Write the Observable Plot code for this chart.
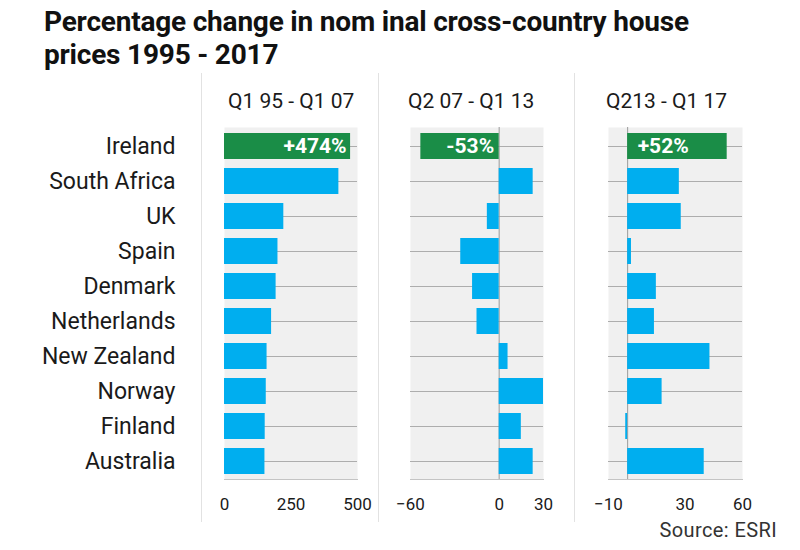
<!DOCTYPE html>
<html>
<head>
<meta charset="utf-8">
<script src="https://cdn.jsdelivr.net/npm/d3@7"></script>
<script src="https://cdn.jsdelivr.net/npm/@observablehq/plot@0.6"></script>
<style>
  html, body { margin: 0; padding: 0; background: #fff; }
  #chart { position: relative; width: 800px; height: 550px; font-family: Roboto, "Noto Sans", sans-serif; color: #1a1a1a; overflow: hidden; }
  .title { position: absolute; left: 44px; top: 5px; font-weight: 700; font-size: 28px; line-height: 33px; letter-spacing: -0.2px; color: #111; white-space: nowrap; }
  .head { position: absolute; top: 89px; font-size: 21px; line-height: 24px; color: #1a1a1a; white-space: nowrap; }
  .sep { position: absolute; top: 73px; height: 449px; width: 1px; background: #e2e2e2; }
  .panel { position: absolute; top: 120px; }
  .source { position: absolute; right: 23px; top: 518px; font-size: 20px; line-height: 24px; letter-spacing: 0.4px; color: #333; }
</style>
</head>
<body>
<div id="chart">
  <div class="title">Percentage change in nom inal cross-country house<br>prices 1995 - 2017</div>
</div>
<script>
const countries = ["Ireland", "South Africa", "UK", "Spain", "Denmark", "Netherlands", "New Zealand", "Norway", "Finland", "Australia"];
const change1995to2007 = [474, 430, 223, 201, 194, 177, 160, 157, 153, 152];
const change2007to2013 = [-53, 23, -8, -26, -18, -15, 6, 30, 15, 23];
const change2013to2017 = [52, 27, 28, 2, 15, 14, 43, 18, -1, 40];
const periodLabels = ["Q1 95 - Q1 07", "Q2 07 - Q1 13", "Q213 - Q1 17"];
const domains = [[0, 500], [-60, 30], [-10, 60]];
const tickValues = [[0, 250, 500], [-60, 0, 30], [-10, 30, 60]];
const highlight = "Ireland";

const chart = document.getElementById("chart");
const fmt = v => (v > 0 ? "+" : "") + v + "%";

const panelLayout = [
  {left: 0, width: 378, marginLeft: 224, marginRight: 21, headX: 228, labelAt: "end", labelAnchor: "end", dx: -4},
  {left: 378, width: 197, marginLeft: 32, marginRight: 32, headX: 408, labelAt: "zero", labelAnchor: "end", dx: -5},
  {left: 575, width: 225, marginLeft: 33, marginRight: 58, headX: 606, labelAt: "zero", labelAnchor: "start", dx: 10}
];
const series = [change1995to2007, change2007to2013, change2013to2017];

[201, 378, 574].forEach(x => {
  const s = document.createElement("div");
  s.className = "sep";
  s.style.left = x + "px";
  chart.appendChild(s);
});

series.forEach((vals, k) => {
  const L = panelLayout[k];
  const data = countries.map((c, i) => ({country: c, value: vals[i]}));
  const marks = [
    Plot.frame({fill: "#f0f0f0", stroke: null}),
    Plot.ruleY(countries, {y: d => d, stroke: "#adadad", strokeWidth: 1}),
    Plot.frame({anchor: "bottom", stroke: "#c4c4c4"}),
  ];
  if (k > 0) marks.push(Plot.ruleX([0], {stroke: "#9a9a9a", strokeWidth: 1}));
  marks.push(
    Plot.barX(data, {y: "country", x1: 0, x2: "value", fill: d => d.country === highlight ? "#1a8d47" : "#00aeef"}),
    Plot.text(data.filter(d => d.country === highlight), {
      y: "country",
      x: L.labelAt === "end" ? "value" : () => 0,
      text: d => fmt(d.value),
      textAnchor: L.labelAnchor,
      dx: L.dx,
      fill: "white",
      fontWeight: 700,
      fontSize: 21
    }),
    Plot.axisX({ticks: tickValues[k], tickSize: 0, tickPadding: 18, label: null, fontSize: 17, fill: "#1a1a1a"})
  );
  if (k === 0) {
    marks.push(Plot.axisY({anchor: "left", tickSize: 0, tickPadding: 49, label: null, fontSize: 23, fill: "#1a1a1a"}));
  }
  const svg = Plot.plot({
    width: L.width,
    height: 400,
    marginTop: 7,
    marginBottom: 41,
    marginLeft: L.marginLeft,
    marginRight: L.marginRight,
    style: {fontFamily: "Roboto, 'Noto Sans', sans-serif", fontSize: "17px", color: "#1a1a1a", background: "transparent", overflow: "visible"},
    x: {domain: domains[k], axis: null},
    y: {domain: countries, paddingInner: 0.27, paddingOuter: 0.16, axis: null},
    marks
  });
  const wrap = document.createElement("div");
  wrap.className = "panel";
  wrap.style.left = L.left + "px";
  wrap.appendChild(svg);
  chart.appendChild(wrap);

  const h = document.createElement("div");
  h.className = "head";
  h.style.left = L.headX + "px";
  h.textContent = periodLabels[k];
  chart.appendChild(h);
});

const src = document.createElement("div");
src.className = "source";
src.textContent = "Source: ESRI";
chart.appendChild(src);
</script>
</body>
</html>
